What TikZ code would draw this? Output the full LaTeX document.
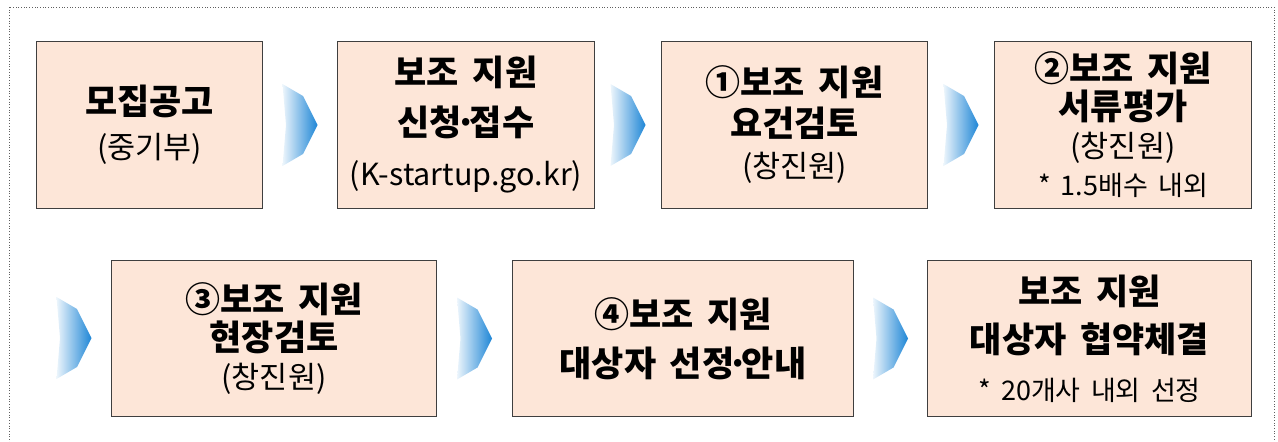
\documentclass[tikz,border=0pt]{standalone}
\usepackage{fontspec}
\setmainfont{Noto Sans CJK KR}[WordSpace=1.7]
\usetikzlibrary{calc}
\definecolor{boxfill}{HTML}{FDE6D8}
\definecolor{boxline}{HTML}{3F3F3F}
\definecolor{arrowblue}{HTML}{1E86D6}
\definecolor{arrowmid}{HTML}{4F8CD4}
\definecolor{framegray}{HTML}{5F5F5F}
\newcommand{\ttl}[1]{{\bfseries\fontsize{35}{35}\selectfont #1}}
\newcommand{\subtxt}[1]{{\fontsize{30.5}{30.5}\selectfont #1}}
\newcommand{\notetxt}[1]{{\fontsize{27}{27}\selectfont #1}}
\newcommand{\mdot}{\makebox[0.22em]{·}}
\newcommand{\flowarrow}[1]{%
  \shade[flowshade, shift={#1}] (-17.5,-41) -- (3,-29) -- (17.5,0) -- (3,29) -- (-17.5,41) -- (-14,0) -- cycle;}
\begin{document}
\begin{tikzpicture}[x=1pt, y=-1pt]
	\tikzset{stepbox/.style={draw=boxline, fill=boxfill, line width=1pt, anchor=north west, align=center, inner sep=0pt},
		flowshade/.style={left color=arrowblue!8, middle color=arrowmid!75, right color=arrowblue}}
	\useasboundingbox (0,0) rectangle (1278,442);
	\draw[dotted, framegray, line width=0.7pt] (9,7) rectangle (1274,448);
	% first row
	\node[stepbox, minimum width=226pt, minimum height=167pt, font=\fontsize{30}{44}\selectfont] (gonggo) at (36,41)
		{\ttl{모집공고}\\\subtxt{(중기부)}};
	\node[stepbox, minimum width=257pt, minimum height=167pt, font=\fontsize{30}{50}\selectfont] (sincheong) at (337,41)
		{\ttl{보조 지원}\\\ttl{신청\mdot 접수}\\\subtxt{(K-startup.go.kr)}};
	\node[stepbox, minimum width=266pt, minimum height=167pt, font=\fontsize{30}{41}\selectfont] (yogeon) at (661,41)
		{\ttl{①보조 지원}\\\ttl{요건검토}\\\subtxt{(창진원)}};
	\node[stepbox, minimum width=257pt, minimum height=167pt, font=\fontsize{30}{38}\selectfont] (seoryu) at (994,41)
		{\ttl{②보조 지원}\\\ttl{서류평가}\\\subtxt{(창진원)}\\\notetxt{* 1.5배수 내외}};
	% second row
	\node[stepbox, minimum width=325pt, minimum height=156pt, font=\fontsize{30}{38}\selectfont] (hyeonjang) at (111,260)
		{\ttl{③보조 지원}\\\ttl{현장검토}\\\subtxt{(창진원)}};
	\node[stepbox, minimum width=341pt, minimum height=156pt, font=\fontsize{30}{49}\selectfont] (seonjeong) at (512,260)
		{\ttl{④보조 지원}\\\ttl{대상자 선정\mdot 안내}};
	\node[stepbox, minimum width=324pt, minimum height=156pt, font=\fontsize{30}{48}\selectfont] (hyeopyak) at (927,260)
		{\ttl{보조 지원}\\\ttl{대상자 협약체결}\\\notetxt{* 20개사 내외 선정}};
	\coordinate (rowtwo) at (74,338);
	% arrows
	\flowarrow{($(gonggo.east)!.5!(sincheong.west)$)}
	\flowarrow{($(sincheong.east)!.5!(yogeon.west)$)}
	\flowarrow{($(yogeon.east)!.5!(seoryu.west)$)}
	\flowarrow{(rowtwo)}
	\flowarrow{($(hyeonjang.east)!.5!(seonjeong.west)$)}
	\flowarrow{($(seonjeong.east)!.5!(hyeopyak.west)$)}
\end{tikzpicture}
\end{document}
